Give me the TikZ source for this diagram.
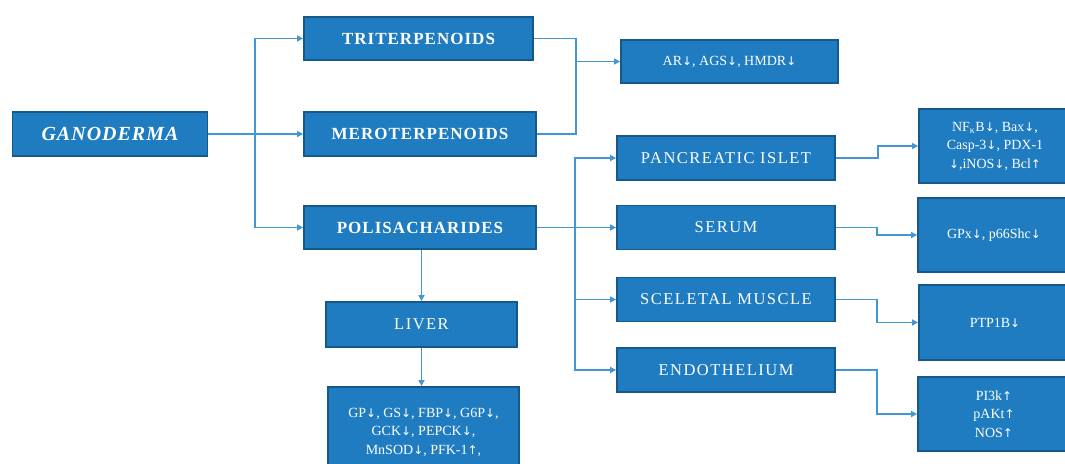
\documentclass[tikz,border=0pt]{standalone}
\usepackage{fontspec}
\setmainfont{Liberation Serif}
\newfontfamily\symf{DejaVu Sans}
\usetikzlibrary{arrows.meta}
\definecolor{boxfill}{RGB}{31,124,192}
\definecolor{boxborder}{RGB}{21,88,138}
\definecolor{linecol}{RGB}{66,150,212}
\newcommand\dn{{\symf\fontsize{12}{12}\selectfont ↓}}
\newcommand\upa{{\symf\fontsize{12}{12}\selectfont ↑}}
\tikzset{
  box/.style={draw=boxborder, line width=1.8pt, fill=boxfill, text=white, inner sep=0pt, align=center},
  headbox/.style={box, font=\fontsize{17}{19}\selectfont\bfseries\addfontfeatures{LetterSpace=6}},
  organbox/.style={box, minimum width=218pt, minimum height=44pt, font=\fontsize{16.5}{18}\selectfont\addfontfeatures{LetterSpace=9}},
  smallbox/.style={box, font=\fontsize{14}{18.5}\selectfont},
  conn/.style={draw=linecol, line width=1.6pt},
  arr/.style={conn, -{Triangle[length=6pt,width=6pt]}}
}
\begin{document}
\begin{tikzpicture}[x=1pt,y=-1pt]
\useasboundingbox (0,0) rectangle (1065,463);
\clip (0,0) rectangle (1065,463);
% main column
\node[box, minimum width=195pt, minimum height=44pt, font=\fontsize{20}{22}\selectfont\bfseries\itshape\addfontfeatures{LetterSpace=5}] (gan) at (110,134) {GANODERMA};
\node[headbox, minimum width=229pt, minimum height=43pt] (tri) at (418.5,38.5) {TRITERPENOIDS};
\node[headbox, minimum width=232pt, minimum height=44pt] (mero) at (420,134) {MEROTERPENOIDS};
\node[headbox, minimum width=232pt, minimum height=43pt] (poli) at (420,227.5) {POLISACHARIDES};
% AR box
\node[smallbox, minimum width=217pt, minimum height=43pt] (ar) at (729.5,61.5) {AR\dn, AGS\dn, HMDR\dn};
% organ boxes
\node[organbox] (pan) at (726,158) {PANCREATIC ISLET};
\node[organbox] (serum) at (726,227.5) {SERUM};
\node[organbox] (musc) at (726,299.5) {SCELETAL MUSCLE};
\node[organbox] (endo) at (726,370) {ENDOTHELIUM};
% result boxes
\node[smallbox, minimum width=152pt, minimum height=74pt] (nfkb) at (995,146) {NF\textsubscript{κ}B\dn, Bax\dn,\\Casp-3\dn, PDX-1\\\dn,iNOS\dn, Bcl\upa};
\node[smallbox, minimum width=152pt, minimum height=74pt] (gpx) at (994,235) {GPx\dn, p66Shc\dn};
\node[smallbox, minimum width=152pt, minimum height=75pt] (ptp) at (995,322.5) {PTP1B\dn};
\node[smallbox, minimum width=152pt, minimum height=74pt] (pik) at (994,414) {PI3k\upa\\pAKt\upa\\NOS\upa};
% liver
\node[organbox, minimum width=191pt, minimum height=45pt] (liver) at (421.5,324.5) {LIVER};
\node[smallbox, minimum width=191pt, minimum height=90pt] (lres) at (423.5,432) {GP\dn, GS\dn, FBP\dn, G6P\dn,\\GCK\dn, PEPCK\dn,\\MnSOD\dn, PFK-1\upa,};
% connectors from GANODERMA
\coordinate (gj) at (255,134);
\draw[conn] (gan.east) -- (gj);
\draw[arr] (gj) |- (tri.west);
\draw[arr] (gj) -- (mero.west);
\draw[arr] (gj) |- (poli.west);
% bracket to AR
\coordinate (aj) at (576,61.5);
\draw[conn] (tri.east) -| (aj);
\draw[conn] (mero.east) -| (aj);
\draw[arr] (aj) -- (ar.west);
% polisacharides to organs
\coordinate (pj) at (575,227.5);
\draw[arr] (poli.east) -- (serum.west);
\draw[arr] (pj) |- (pan.west);
\draw[arr] (pj) |- (musc.west);
\draw[arr] (pj) |- (endo.west);
% organs to results
\draw[arr] (pan.east) -- ++(42,0) |- (nfkb.west);
\draw[arr] (serum.east) -- ++(41,0) |- (gpx.west);
\draw[arr] (musc.east) -- ++(41,0) |- (ptp.west);
\draw[arr] (endo.east) -- ++(41,0) |- (pik.west);
% liver chain
\draw[arr] (liver.north |- poli.south) -- (liver.north);
\draw[arr] (liver.south) -- (liver.south |- lres.north);
\end{tikzpicture}
\end{document}
